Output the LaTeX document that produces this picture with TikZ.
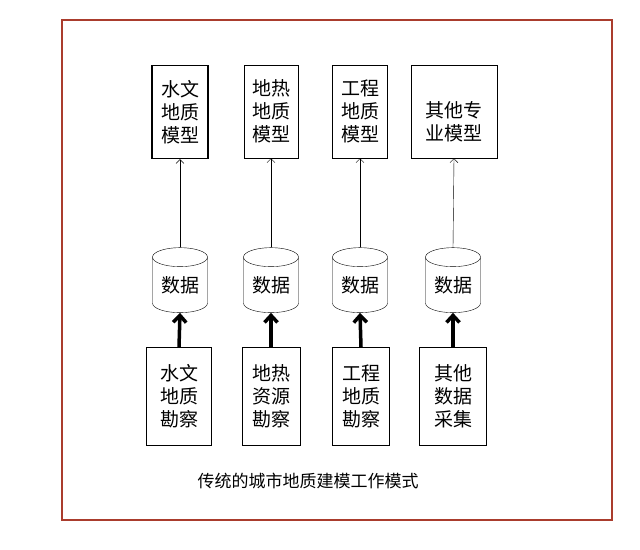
\documentclass[tikz,border=0pt]{standalone}
\usepackage{fontspec}
\newfontfamily\cjk{Noto Sans CJK SC}
\usetikzlibrary{shapes.geometric,arrows.meta}
\begin{document}
\begin{tikzpicture}[x=1pt, y=-1pt,
    every node/.style={font=\cjk\fontsize{19}{23}\selectfont, align=center},
    model/.style={draw, inner sep=2pt, minimum height=93pt, anchor=north},
    survey/.style={draw, inner sep=2pt, minimum height=98pt, anchor=north},
    datastore/.style={draw, cylinder, shape border rotate=90, aspect=0.5,
        minimum width=55pt, minimum height=65pt, inner sep=0pt}]
    \useasboundingbox (0,0) rectangle (640,549);
    \draw[draw={rgb,255:red,170;green,60;blue,45}, line width=2.2pt] (62,20) rectangle (612,520);

    % models
    \node[model, line width=1.2pt, minimum width=56pt] (m1) at (180,65) {水文\\地质\\模型};
    \node[model, minimum width=54pt] (m2) at (271,65) {地热\\地质\\模型};
    \node[model, minimum width=55pt] (m3) at (360,65) {工程\\地质\\模型};
    \node[model, minimum width=86pt, text height=60pt] (m4) at (454,65) {其他专\\业模型};

    % data
    \node[datastore] (d1) at (180,285) {数据};
    \node[datastore] (d2) at (271,285) {数据};
    \node[datastore] (d3) at (360,285) {数据};
    \node[datastore] (d4) at (453,285) {数据};

    % surveys
    \node[survey, minimum width=65pt] (s1) at (179,347) {水文\\地质\\勘察};
    \node[survey, minimum width=58pt] (s2) at (271,347) {地热\\资源\\勘察};
    \node[survey, minimum width=57pt] (s3) at (361,347) {工程\\地质\\勘察};
    \node[survey, minimum width=67pt] (s4) at (453,347) {其他\\数据\\采集};

    \foreach \i in {1,...,4} {
        \draw[-{Straight Barb[length=4pt]}] (d\i.top) -- (m\i.south);
        \draw[line width=3.5pt, -{Straight Barb[length=7pt,width=13pt]}] (s\i.north) -- (d\i.bottom);
    }

    \node[font=\cjk\fontsize{17}{20}\selectfont] (cap) at (308,481) {传统的城市地质建模工作模式};
\end{tikzpicture}
\end{document}
